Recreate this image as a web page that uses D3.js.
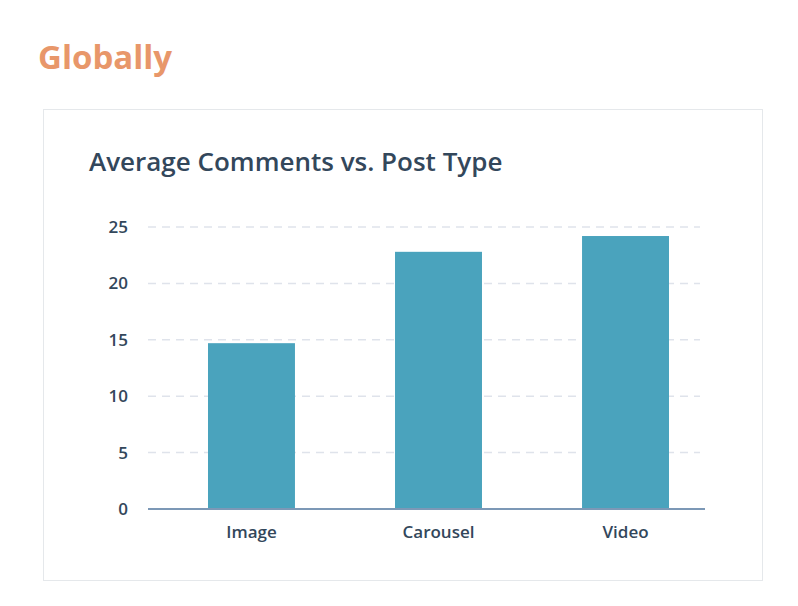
<!DOCTYPE html>
<html>
<head>
<meta charset="utf-8">
<script src="https://cdn.jsdelivr.net/npm/d3@7"></script>
<style>
  body { margin: 0; background: #fff; }
  text { font-family: "Open Sans", "Noto Sans", sans-serif; }
</style>
</head>
<body>
<svg class="chart"></svg>
<script>
const categories = ['Image', 'Carousel', 'Video'];
const comments = [14.7, 22.8, 24.2];
const yTicks = [0, 5, 10, 15, 20, 25];

const svg = d3.select("svg.chart")
    .attr("width", 798)
    .attr("height", 606);

// page heading
svg.append("text")
    .attr("x", 38).attr("y", 69)
    .attr("fill", "#E8976A")
    .attr("font-size", 33)
    .attr("font-weight", 700)
    .text("Globally");

// card outline
svg.append("rect")
    .attr("x", 43.5).attr("y", 109.5)
    .attr("width", 719).attr("height", 471)
    .attr("fill", "#fff")
    .attr("stroke", "#e5e8eb");

svg.append("text")
    .attr("x", 89).attr("y", 171)
    .attr("fill", "#33475b")
    .attr("font-size", 26)
    .attr("font-weight", 600)
    .text("Average Comments vs. Post Type");

const x = d3.scaleBand().domain(categories).range([157.5, 719.5])
    .paddingInner(0.535).paddingOuter(0.27);
const y = d3.scaleLinear().domain([0, 25]).range([509, 227]);

// dashed gridlines
svg.append("g")
    .selectAll("line")
    .data(yTicks.filter(d => d > 0))
    .join("line")
    .attr("x1", 148).attr("x2", 700)
    .attr("y1", d => y(d)).attr("y2", d => y(d))
    .attr("stroke", "#dfe3eb")
    .attr("stroke-width", 1.5)
    .attr("stroke-dasharray", "8,6");

svg.append("g")
    .selectAll("text")
    .data(yTicks)
    .join("text")
    .attr("x", 128).attr("y", d => y(d) + 6)
    .attr("text-anchor", "end")
    .attr("fill", "#33475b")
    .attr("font-size", 17)
    .attr("font-weight", 600)
    .text(d => d);

svg.append("g")
    .selectAll("rect")
    .data(comments)
    .join("rect")
    .attr("x", (d, i) => x(categories[i]))
    .attr("width", x.bandwidth())
    .attr("y", d => y(d))
    .attr("height", d => y(0) - y(d))
    .attr("fill", "#4AA3BD");

// baseline
svg.append("line")
    .attr("x1", 148).attr("x2", 705)
    .attr("y1", y(0)).attr("y2", y(0))
    .attr("stroke", "#7c98b6")
    .attr("stroke-width", 2);

svg.append("g")
    .selectAll("text")
    .data(categories)
    .join("text")
    .attr("x", d => x(d) + x.bandwidth() / 2)
    .attr("y", 538)
    .attr("text-anchor", "middle")
    .attr("fill", "#33475b")
    .attr("font-size", 17)
    .attr("font-weight", 600)
    .text(d => d);
</script>
</body>
</html>
